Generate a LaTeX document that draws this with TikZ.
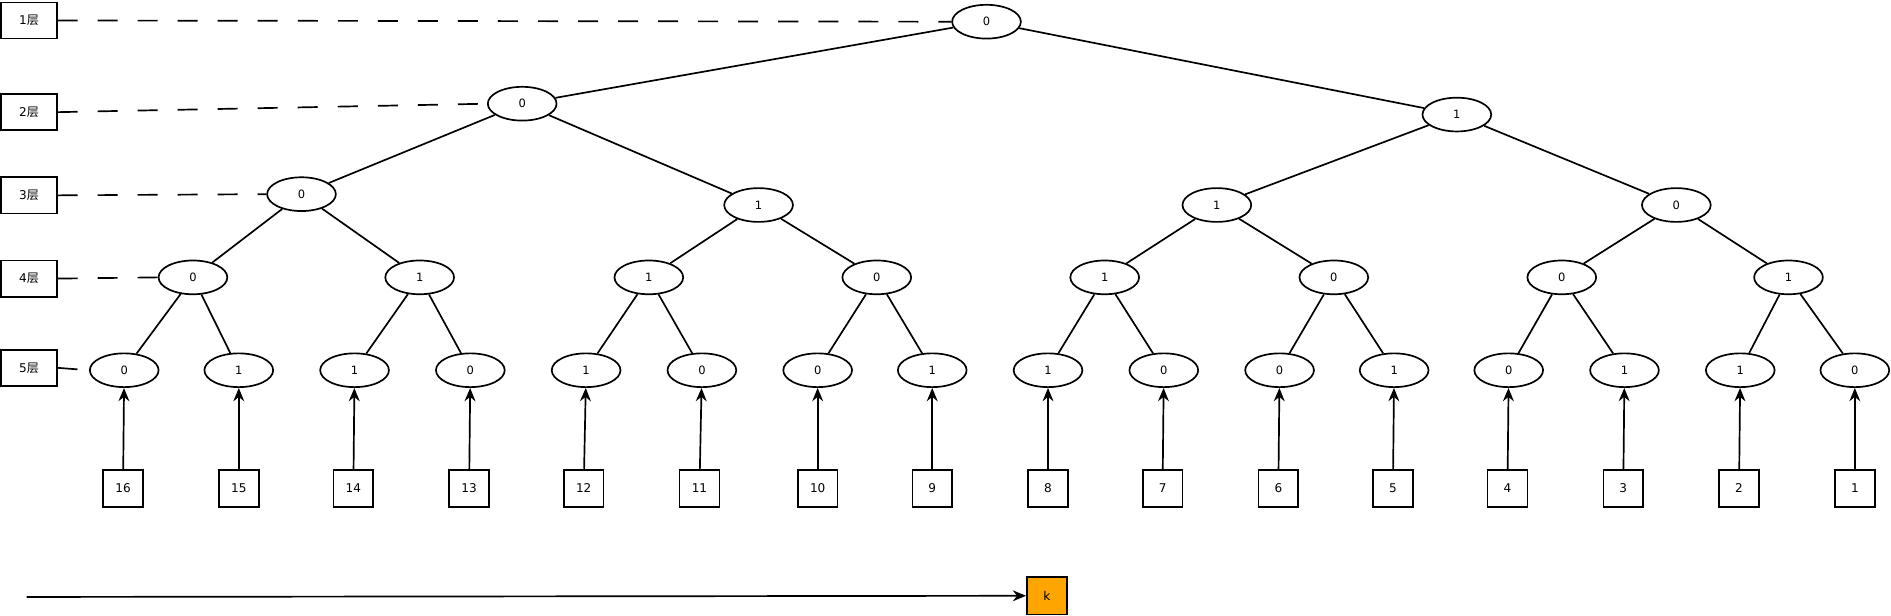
\documentclass[tikz,border=0pt]{standalone}
\usepackage{fontspec}
\setmainfont{DejaVu Sans}
\newfontfamily\cjk{Noto Sans CJK SC}
\usetikzlibrary{shapes.geometric,arrows.meta}
\definecolor{korange}{HTML}{FFA500}
\begin{document}
\begin{tikzpicture}[x=1pt,y=-1pt,
  lvlbox/.style={draw, line width=1.4pt, minimum width=46pt, minimum height=30pt, inner sep=0pt, font=\fontsize{10}{12}\selectfont},
  tn/.style={draw, ellipse, line width=1.4pt, minimum width=57pt, minimum height=28pt, inner sep=0pt, font=\fontsize{9.5}{11}\selectfont},
  leafbox/.style={draw, line width=1.4pt, minimum width=33pt, minimum height=31pt, inner sep=0pt, font=\fontsize{10}{12}\selectfont},
  edge/.style={line width=1.4pt},
  arr/.style={line width=1.4pt, -{Stealth[length=11pt,width=9pt]}},
  dsh/.style={line width=1.4pt, dash pattern=on 16.6pt off 16.6pt}]
\useasboundingbox (0,0) rectangle (1568,510);
% level labels
\node[lvlbox] (l1) at (24,17) {1{\cjk 层}};
\node[lvlbox] (l2) at (24,93) {2{\cjk 层}};
\node[lvlbox] (l3) at (24,162) {3{\cjk 层}};
\node[lvlbox] (l4) at (24,231) {4{\cjk 层}};
\node[lvlbox] (l5) at (24,305) {5{\cjk 层}};
% tree
\node[tn] (a1) at (818,18) {0};
\node[tn] (b1) at (433,86) {0};
\node[tn] (b2) at (1208,95) {1};
\foreach \x/\yy/\v [count=\i] in {250/161/0,629/170/1,1009/170/1,1390/170/0}
  \node[tn] (c\i) at (\x,\yy) {\v};
\foreach \x/\v [count=\i] in {160/0,348/1,538/1,727/0,916/1,1106/0,1295/0,1483/1}
  \node[tn] (d\i) at (\x,230) {\v};
\foreach \x/\v [count=\i] in {103/0,198/1,294/1,390/0,486/1,582/0,678/0,773/1,869/1,965/0,1061/0,1156/1,1251/0,1347/1,1443/1,1538/0}
  \node[tn] (e\i) at (\x,307) {\v};
\draw[edge] (a1) -- (b1);
\draw[edge] (a1) -- (b2);
\draw[edge] (b1) -- (c1);
\draw[edge] (b1) -- (c2);
\draw[edge] (b2) -- (c3);
\draw[edge] (b2) -- (c4);
\foreach \i in {1,...,4}{
  \pgfmathtruncatemacro\ja{2*\i-1}
  \pgfmathtruncatemacro\jb{2*\i}
  \draw[edge] (c\i) -- (d\ja);
  \draw[edge] (c\i) -- (d\jb);
}
\foreach \i in {1,...,8}{
  \pgfmathtruncatemacro\ja{2*\i-1}
  \pgfmathtruncatemacro\jb{2*\i}
  \draw[edge] (d\i) -- (e\ja);
  \draw[edge] (d\i) -- (e\jb);
}
% leaf boxes
\foreach \x [count=\i] in {102,198,293,389,484,580,678,773,869,964,1060,1155,1250,1346,1442,1538}{
  \pgfmathtruncatemacro\lab{17-\i}
  \node[leafbox] (f\i) at (\x,405) {\lab};
  \draw[arr] (f\i) -- (e\i);
}
% dashed level guides
\draw[dsh] (l1.east) -- (a1.west);
\draw[dsh] (l2.east) -- (b1.west);
\draw[dsh] (l3.east) -- (c1.west);
\draw[dsh] (l4.east) -- (d1.west);
\draw[dsh] (l5.east) -- (e1.west);
% k
\node[leafbox, fill=korange] (k) at (868,494) {k};
\coordinate (ks) at (22,495);
\draw[arr] (ks) -- (k);
\end{tikzpicture}
\end{document}
